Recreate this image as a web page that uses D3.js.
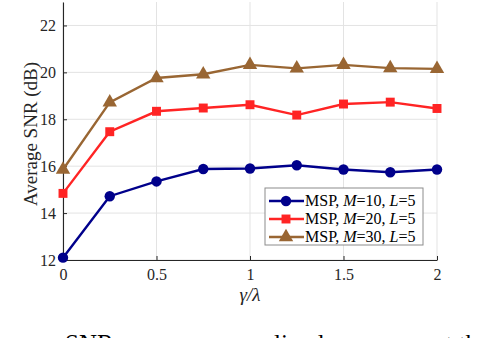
<!DOCTYPE html>
<html lang="en">
<head>
<meta charset="UTF-8">
<title>Average SNR</title>
<script src="https://d3js.org/d3.v7.min.js"></script>
<style>
body,html{margin:0;padding:0;background:#fff;}
svg{display:block;font-family:"Liberation Serif","Times New Roman",serif;}
</style>
</head>
<body>
<svg width="478" height="338"></svg>
<script>
// values
let ratios = [0, 0.25, 0.5, 0.75, 1, 1.25, 1.5, 1.75, 2];
let snrM10 = [12.1, 14.72, 15.35, 15.88, 15.9, 16.04, 15.86, 15.74, 15.86];
let snrM20 = [14.84, 17.47, 18.34, 18.48, 18.62, 18.18, 18.65, 18.73, 18.46];
let snrM30 = [15.86, 18.72, 19.76, 19.92, 20.32, 20.17, 20.32, 20.18, 20.15];
let xTicks = [0, 0.5, 1, 1.5, 2];
let yTicks = [12, 14, 16, 18, 20, 22];
let seriesM = ["10", "20", "30"];

let series = [
  {m: seriesM[0], values: snrM10, color: "#00008b", shape: "circle"},
  {m: seriesM[1], values: snrM20, color: "#ff2424", shape: "square"},
  {m: seriesM[2], values: snrM30, color: "#996633", shape: "triangle"}
];

let svg = d3.select("svg"),
  margin = {top: 2, right: 41, bottom: 78, left: 63},
  w = +svg.attr("width") - margin.left - margin.right,
  h = +svg.attr("height") - margin.top - margin.bottom,
  g = svg.append("g").attr("transform", `translate(${margin.left},${margin.top})`);

let x = d3.scaleLinear().domain([0, 2]).range([0, w]);
let y = d3.scaleLinear().domain([12, 23]).range([h, 0]);

// grid
g.append("g").selectAll("line").data(xTicks).join("line")
  .attr("x1", d => x(d)).attr("x2", d => x(d))
  .attr("y1", 0).attr("y2", h)
  .attr("stroke", "#e3e3e3").attr("stroke-width", 1);
g.append("g").selectAll("line").data(yTicks).join("line")
  .attr("x1", 0).attr("x2", w)
  .attr("y1", d => y(d)).attr("y2", d => y(d))
  .attr("stroke", "#e3e3e3").attr("stroke-width", 1);

// axes, ticks pointing inwards
let xAxis = d3.axisBottom(x).tickValues(xTicks).tickFormat(d => String(d))
  .tickSizeInner(-4).tickSizeOuter(0).tickPadding(9);
let yAxis = d3.axisLeft(y).tickValues(yTicks).tickSizeInner(-4).tickSizeOuter(0).tickPadding(7);

let xg = g.append("g").attr("transform", `translate(0,${h})`).call(xAxis);
let yg = g.append("g").call(yAxis);
[xg, yg].forEach(a => {
  a.attr("font-family", null);
  a.select(".domain").attr("stroke", "#262626").attr("stroke-width", 1.1);
  a.selectAll(".tick line").attr("stroke", "#262626");
  a.selectAll(".tick text").attr("fill", "#262626")
    .style("font-family", "'Liberation Serif',serif").style("font-size", "16px");
});

// axis titles
svg.append("text")
  .attr("transform", `translate(37,${margin.top + h / 2 + 3}) rotate(-90)`)
  .attr("text-anchor", "middle").attr("fill", "#262626")
  .style("font-size", "19px")
  .text("Average SNR (dB)");
svg.append("text")
  .attr("x", margin.left + w / 2).attr("y", 301)
  .attr("text-anchor", "middle").attr("fill", "#262626")
  .style("font-size", "19px").style("font-style", "italic")
  .text("γ/λ");

// lines and markers
let line = d3.line().x((d, i) => x(ratios[i])).y(d => y(d));
let symbolOf = {
  circle: d3.symbol(d3.symbolCircle, 85),
  square: d3.symbol(d3.symbolSquare, 80),
  triangle: d3.symbol(d3.symbolTriangle, 90)
};

series.forEach(s => {
  g.append("path").datum(s.values)
    .attr("d", line).attr("fill", "none")
    .attr("stroke", s.color).attr("stroke-width", 2.4);
  g.append("g").selectAll("path").data(s.values).join("path")
    .attr("transform", (d, i) => `translate(${x(ratios[i])},${y(d)})`)
    .attr("d", symbolOf[s.shape]).attr("fill", s.color);
});

// legend
let lg = svg.append("g").attr("transform", "translate(265,188)");
lg.append("rect").attr("width", 158).attr("height", 57)
  .attr("fill", "#fff").attr("stroke", "#8c8c8c").attr("stroke-width", 1);
series.forEach((s, i) => {
  let row = lg.append("g").attr("transform", `translate(0,${13 + i * 18})`);
  row.append("line").attr("x1", 4).attr("x2", 39).attr("y1", 0).attr("y2", 0)
    .attr("stroke", s.color).attr("stroke-width", 2.4);
  row.append("path").attr("transform", "translate(21,0)")
    .attr("d", symbolOf[s.shape]).attr("fill", s.color);
  let t = row.append("text").attr("x", 40).attr("y", 5)
    .attr("fill", "#000").style("font-size", "16px");
  t.append("tspan").text("MSP, ");
  t.append("tspan").style("font-style", "italic").text("M");
  t.append("tspan").text("=" + s.m + ", ");
  t.append("tspan").style("font-style", "italic").text("L");
  t.append("tspan").text("=5");
});

// caption, cut off by the window bottom as in the source
svg.append("text")
  .attr("x", 65).attr("y", 352)
  .attr("fill", "#000").style("font-size", "25px")
  .text("SNR versus average line loss curves at the");
</script>
</body>
</html>
